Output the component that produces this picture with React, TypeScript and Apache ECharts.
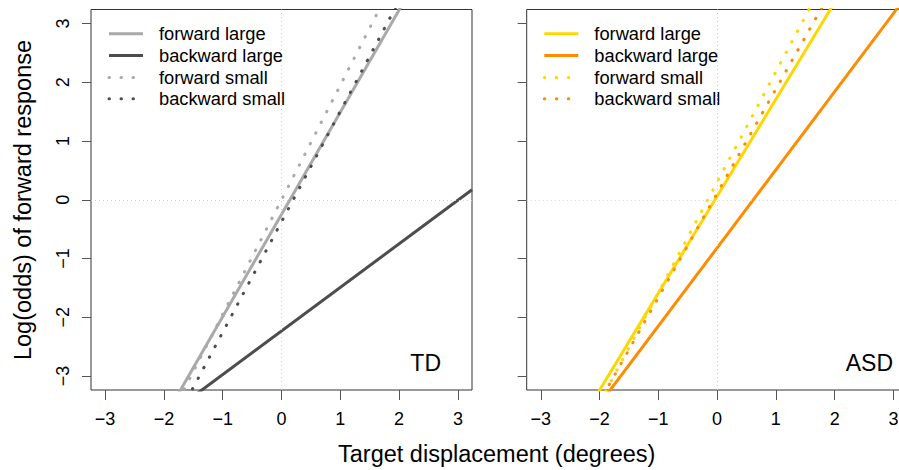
import React, { useEffect, useRef } from "react";
import * as echarts from "echarts";

// x positions where each fitted line is sampled (panel edges)
const xEnds = [-3.24, 3.24];

// TD panel: log-odds at the two x ends
const tdForwardLarge = [-5.89, 5.39];
const tdBackwardLarge = [-4.64, 0.17];
const tdForwardSmall = [-6.32, 6.32];
const tdBackwardSmall = [-6.47, 5.72];

// ASD panel
const asdForwardLarge = [-5.29, 5.41];
const asdBackwardLarge = [-5.13, 3.49];
const asdForwardSmall = [-5.79, 6.39];
const asdBackwardSmall = [-5.64, 5.86];

const tickValues = [-3, -2, -1, 0, 1, 2, 3];
const refValues = [0];
const legendNames = ["forward large", "backward large", "forward small", "backward small"];
const panelLabels = ["TD", "ASD"];

const FONT = "Liberation Sans, Arial, Helvetica, sans-serif";
const tdColors = ["#A9A9A9", "#4D4D4D", "#A9A9A9", "#4D4D4D"];
const asdColors = ["#FFD700", "#FF8C00", "#FFD700", "#FF8C00"];
const DOT = [0.5, 11.5];

const fmt = (v: number) => String(v).replace("-", "\u2212");

export default function App() {
  const ref = useRef<HTMLDivElement>(null);
  useEffect(() => {
    if (!ref.current) return;
    const chart = echarts.init(ref.current, null, { renderer: "svg" });

    const panels = [
      { colors: tdColors, data: [tdForwardLarge, tdBackwardLarge, tdForwardSmall, tdBackwardSmall] },
      { colors: asdColors, data: [asdForwardLarge, asdBackwardLarge, asdForwardSmall, asdBackwardSmall] },
    ];

    const mkX = (gi: number) => ({
      type: "value",
      gridIndex: gi,
      min: -3.24,
      max: 3.24,
      axisLine: { show: false, onZero: false },
      axisTick: { show: true, length: 10, customValues: tickValues, lineStyle: { color: "#555", width: 1 } },
      axisLabel: { customValues: tickValues, formatter: fmt, fontSize: 18, color: "#000", fontFamily: FONT, margin: 20 },
      splitLine: { show: false },
    });
    const mkY = (gi: number, showLabel: boolean) => ({
      type: "value",
      gridIndex: gi,
      min: -3.24,
      max: 3.24,
      axisLine: { show: false, onZero: false },
      axisTick: { show: true, length: 9, customValues: tickValues, lineStyle: { color: "#555", width: 1 } },
      axisLabel: {
        show: showLabel,
        customValues: tickValues,
        formatter: fmt,
        fontSize: 18,
        color: "#000",
        fontFamily: FONT,
        rotate: 90,
        margin: 19,
      },
      splitLine: { show: false },
    });

    const series: any[] = [];
    panels.forEach((p, gi) => {
      series.push({
        type: "line",
        xAxisIndex: gi,
        yAxisIndex: gi,
        data: [],
        z: 1,
        silent: true,
        markLine: {
          silent: true,
          symbol: "none",
          label: { show: false },
          lineStyle: { color: "#cfcfcf", width: 1, type: [1, 3] },
          data: [...refValues.map((v) => ({ xAxis: v })), ...refValues.map((v) => ({ yAxis: v }))],
        },
      });
      p.data.forEach((ys, i) => {
        const dotted = i >= 2;
        series.push({
          type: "line",
          name: legendNames[i],
          xAxisIndex: gi,
          yAxisIndex: gi,
          data: xEnds.map((x, k) => [x, ys[k]]),
          symbol: "none",
          clip: true,
          z: 2 + i,
          lineStyle: {
            color: p.colors[i],
            width: 3,
            type: dotted ? DOT : "solid",
            cap: dotted ? "round" : "butt",
          },
        });
      });
    });

    const graphics: any[] = [];
    const legendX = [109, 544.3];
    const rowsY = [33.7, 55.5, 77.5, 98.7];
    panels.forEach((p, gi) => {
      legendNames.forEach((name, i) => {
        const dotted = i >= 2;
        const x0 = legendX[gi];
        graphics.push({
          type: "line",
          shape: { x1: x0, y1: rowsY[i], x2: x0 + 34, y2: rowsY[i] },
          style: {
            stroke: p.colors[i],
            lineWidth: 3,
            lineDash: dotted ? DOT : null,
            lineCap: dotted ? "round" : "butt",
          },
        });
        graphics.push({
          type: "text",
          x: x0 + 50,
          y: rowsY[i],
          style: { text: name, fontSize: 18.3, fontFamily: FONT, fill: "#000", textVerticalAlign: "middle", textAlign: "left" },
        });
      });
    });
    graphics.push({
      type: "text",
      x: 441,
      y: 363,
      style: { text: panelLabels[0], fontSize: 23, fontFamily: FONT, fill: "#000", textAlign: "right", textVerticalAlign: "middle" },
    });
    graphics.push({
      type: "text",
      x: 893,
      y: 363,
      style: { text: panelLabels[1], fontSize: 23, fontFamily: FONT, fill: "#000", textAlign: "right", textVerticalAlign: "middle" },
    });
    graphics.push({
      type: "text",
      x: 23,
      y: 200,
      rotation: Math.PI / 2,
      style: {
        text: "Log(odds) of forward response",
        fontSize: 23.5,
        fontFamily: FONT,
        fill: "#000",
        textAlign: "center",
        textVerticalAlign: "middle",
      },
    });
    graphics.push({
      type: "text",
      x: 496.7,
      y: 454,
      style: {
        text: "Target displacement (degrees)",
        fontSize: 23.5,
        fontFamily: FONT,
        fill: "#000",
        textAlign: "center",
        textVerticalAlign: "middle",
      },
    });

    chart.setOption({
      animation: false,
      backgroundColor: "#fff",
      grid: [
        { left: 91, top: 9.5, width: 381, height: 380.5, show: true, borderColor: "#333", borderWidth: 1, backgroundColor: "transparent" },
        { left: 526.7, top: 9.5, width: 380.8, height: 380.5, show: true, borderColor: "#333", borderWidth: 1, backgroundColor: "transparent" },
      ],
      xAxis: [mkX(0), mkX(1)],
      yAxis: [mkY(0, true), mkY(1, false)],
      series,
      graphic: graphics,
    });
    return () => chart.dispose();
  }, []);
  return (
    <div style={{ position: "absolute", left: 0, top: 0, width: 899, height: 470, overflow: "hidden" }}>
      <div ref={ref} style={{ position: "absolute", left: 0, top: 0, width: 915, height: 470 }} />
    </div>
  );
}
